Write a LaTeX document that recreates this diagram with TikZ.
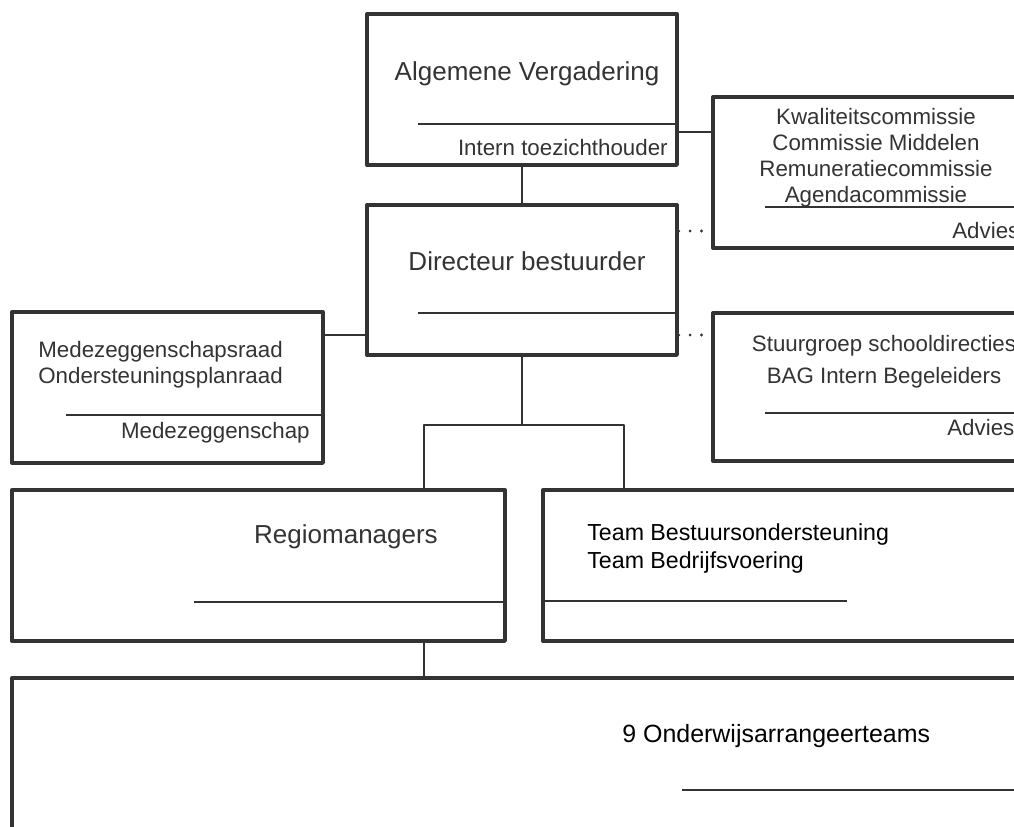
\documentclass[tikz,border=0pt]{standalone}
\usepackage{fontspec}
\setmainfont{Liberation Sans}
\usetikzlibrary{fit}

\definecolor{ink}{gray}{0.2}

\begin{document}
\begin{tikzpicture}[x=0.02cm, y=-0.02cm, line join=round,
    box/.style={draw=ink, line width=1.9pt, inner sep=0pt},
    sep/.style={draw=ink, line width=1.6pt},
    link/.style={draw=ink, line width=1.3pt},
    dots/.style={draw=ink, line width=1.8pt, line cap=round, dash pattern=on 0pt off 6.5pt},
    big/.style={text=ink, font=\fontsize{14.8}{17}\selectfont, inner sep=0pt},
    small/.style={text=ink, font=\fontsize{12.7}{15}\selectfont, inner sep=0pt},
    plain/.style={text=black, font=\fontsize{13.2}{16}\selectfont, inner sep=0pt}]

  % Page frame, the boxes on the right run off it
  \useasboundingbox (0,0) rectangle (1014,826);
  \clip (0,0) rectangle (1014,826);

  % Define the boxes
  \node[box, fit={(367,14) (677,165)}] (av) {};
  \node[box, fit={(367,205) (677,355)}] (db) {};
  \node[box, fit={(713,97) (1040,248)}] (kc) {};
  \node[box, fit={(713,313) (1040,461)}] (sg) {};
  \node[box, fit={(12,312) (323,463)}] (mr) {};
  \node[box, fit={(12,490) (505,641)}] (rm) {};
  \node[box, fit={(543,490) (1040,641)}] (tb) {};
  \node[box, fit={(12,678) (1040,880)}] (ob) {};

  % Lines inside the boxes
  \draw[sep] (418,124) -- (av.east |- 0,124);
  \draw[sep] (418,313) -- (db.east |- 0,313);
  \draw[sep] (765,207) -- (1040,207);
  \draw[sep] (765,413) -- (1040,413);
  \draw[sep] (66,415) -- (mr.east |- 0,415);
  \draw[sep] (194,602) -- (rm.east |- 0,602);
  \draw[sep] (tb.west |- 0,601) -- (847,601);
  \draw[sep] (682,790) -- (1040,790);

  % Texts
  \node[big, anchor=base] at (527,80) {Algemene Vergadering};
  \node[small, anchor=base east] at (668,155) {Intern toezichthouder};
  \node[big, anchor=base] at (527,270) {Directeur bestuurder};

  \node[small, anchor=base] at (876,124) {Kwaliteitscommissie};
  \node[small, anchor=base] at (876,150) {Commissie Middelen};
  \node[small, anchor=base] at (876,176) {Remuneratiecommissie};
  \node[small, anchor=base] at (876,202) {Agendacommissie};
  \node[small, anchor=base west] at (952,238) {Advies};

  \node[small, anchor=base] at (884,351) {Stuurgroep schooldirecties};
  \node[small, anchor=base] at (884,383) {BAG Intern Begeleiders};
  \node[small, anchor=base west] at (947,435) {Advies};

  \node[small, anchor=base west] at (38,357) {Medezeggenschapsraad};
  \node[small, anchor=base west] at (38,383) {Ondersteuningsplanraad};
  \node[small, anchor=base east] at (310,438) {Medezeggenschap};

  \node[big, anchor=base] at (346,543) {Regiomanagers};
  \node[plain, anchor=base west] at (587,540) {Team Bestuursondersteuning};
  \node[plain, anchor=base west] at (587,568) {Team Bedrijfsvoering};

  \node[plain, anchor=base west, font=\fontsize{14.2}{17}\selectfont] at (622,742) {9 Onderwijsarrangeerteams};

  % Connectors
  \coordinate (fork) at (522,425);
  \draw[link] (av.south) -- (db.north);
  \draw[link] (av.east |- 0,132) -- (kc.west |- 0,132);
  \draw[dots] (db.east |- 0,231) -- (kc.west |- 0,231);
  \draw[dots] (db.east |- 0,335) -- (sg.west |- 0,335);
  \draw[link] (mr.east |- 0,335) -- (db.west |- 0,335);
  \draw[link] (db.south) -- (fork);
  \draw[link] (rm.north -| 424,0) |- (fork) -| (tb.north -| 624,0);
  \draw[link] (rm.south -| 424,0) -- (ob.north -| 424,0);

\end{tikzpicture}
\end{document}
